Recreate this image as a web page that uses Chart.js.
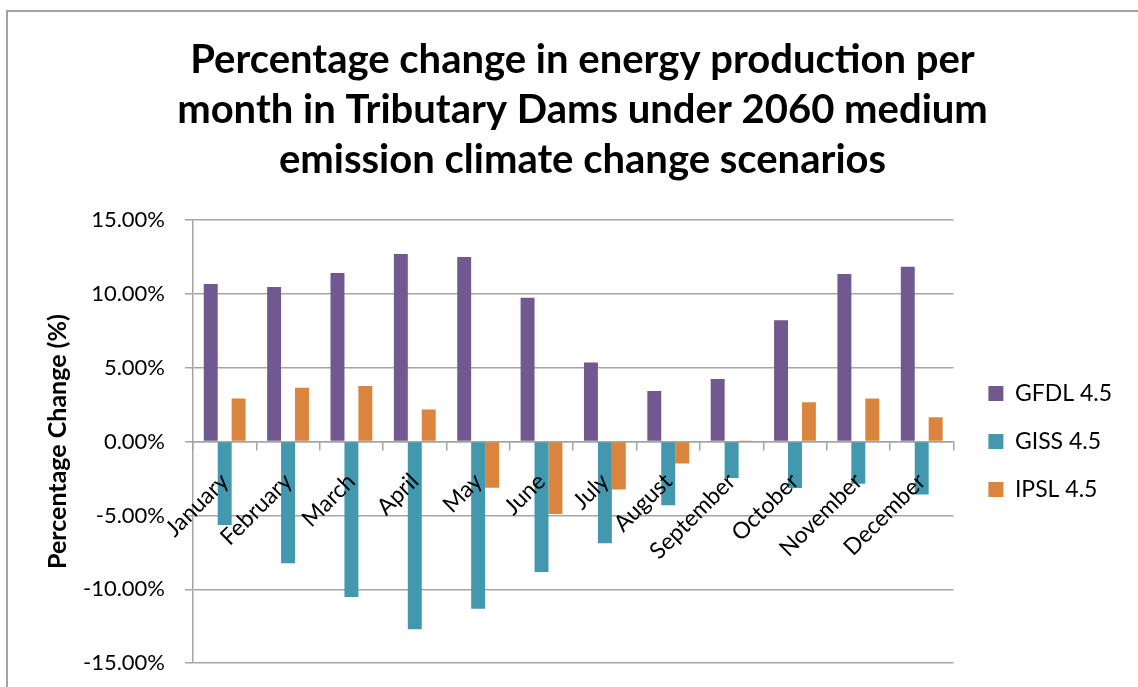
<!DOCTYPE html>
<html>
<head>
<meta charset="utf-8">
<script src="https://cdn.jsdelivr.net/npm/chart.js@4.4.1/dist/chart.umd.min.js"></script>
<style>
    html, body { margin: 0; padding: 0; background: #fff; overflow: hidden; }
    .frame { position: absolute; left: 6px; top: 10px; width: 1200px; height: 800px;
             border-left: 2px solid #a3a3a3; border-top: 2px solid #a3a3a3; }
    .wrap { position: absolute; left: 0; top: 0; width: 1138px; height: 687px; }
</style>
</head>
<body>
<div class="frame"></div>
<div class="wrap"><canvas id="energyChart"></canvas></div>
<script>
// data (percent)
const months = ['January', 'February', 'March', 'April', 'May', 'June',
                'July', 'August', 'September', 'October', 'November', 'December'];
const gfdl = [10.66, 10.46, 11.41, 12.70, 12.49, 9.74, 5.35, 3.43, 4.23, 8.22, 11.34, 11.84];
const giss = [-5.64, -8.24, -10.52, -12.71, -11.31, -8.83, -6.88, -4.31, -2.46, -3.14, -2.85, -3.59];
const ipsl = [2.91, 3.64, 3.77, 2.17, -3.12, -4.90, -3.25, -1.49, 0.02, 2.67, 2.91, 1.65];
const seriesNames = ['GFDL 4.5', 'GISS 4.5', 'IPSL 4.5'];
const seriesColors = ['#71598f', '#4198af', '#db843d'];
const yTicks = [-15, -10, -5, 0, 5, 10, 15];

const titleLines = ['Percentage change in energy production per',
                    'month in Tributary Dams under 2060 medium',
                    'emission climate change scenarios'];

const gridColor = '#a5a5a5';
const fontFamily = 'Lato, "Open Sans", sans-serif';

const ctx = document.getElementById('energyChart').getContext('2d');

new Chart(ctx, {
    type: 'bar',
    data: {
        labels: months,
        datasets: [gfdl, giss, ipsl].map((vals, i) => ({
            label: seriesNames[i],
            data: vals,
            backgroundColor: seriesColors[i],
            borderWidth: 0,
            categoryPercentage: 0.66,
            barPercentage: 1.0
        }))
    },
    options: {
        responsive: true,
        maintainAspectRatio: false,
        animation: false,
        layout: { padding: { left: 43, right: 16, top: 0, bottom: 0 } },
        plugins: {
            title: {
                display: true,
                text: titleLines,
                color: '#000',
                font: { family: fontFamily, size: 40, weight: 'bold', lineHeight: 1.25 },
                padding: { top: 35, bottom: 35 }
            },
            legend: {
                position: 'right',
                fullSize: false,
                labels: {
                    color: '#000',
                    font: { family: fontFamily, size: 23 },
                    boxWidth: 15,
                    boxHeight: 15,
                    padding: 25
                }
            },
            tooltip: { enabled: false }
        },
        scales: {
            x: {
                position: { y: 0 },
                grid: { display: true, drawOnChartArea: false, drawTicks: true, tickLength: 8,
                        color: gridColor, lineWidth: 1.5 },
                border: { display: true, color: gridColor, width: 1.5 },
                ticks: {
                    z: 1, // month names drawn over the bars
                    color: '#000',
                    font: { family: fontFamily, size: 23, lineHeight: 0 },
                    minRotation: 45,
                    maxRotation: 45,
                    padding: 28
                }
            },
            y: {
                min: -15,
                max: 15,
                afterBuildTicks: (scale) => { scale.ticks = yTicks.map(v => ({ value: v })); },
                afterFit: (scale) => { scale.width = 150; },
                grid: { color: gridColor, lineWidth: 1.5, tickLength: 8 },
                border: { display: true, color: gridColor, width: 1.5 },
                ticks: {
                    color: '#000',
                    font: { family: fontFamily, size: 22, lineHeight: 0.35 },
                    padding: 20,
                    callback: (v) => v.toFixed(2) + '%'
                },
                title: {
                    display: true,
                    text: 'Percentage Change (%)',
                    color: '#000',
                    font: { family: fontFamily, size: 25, weight: 'bold' },
                    padding: { top: 0, bottom: 10 }
                }
            },
            // empty spacer between plot and legend
            gap: {
                type: 'linear',
                position: 'right',
                display: true,
                afterFit: (scale) => { scale.width = 10; },
                grid: { display: false },
                border: { display: false },
                ticks: { display: false }
            }
        }
    }
});
</script>
</body>
</html>
